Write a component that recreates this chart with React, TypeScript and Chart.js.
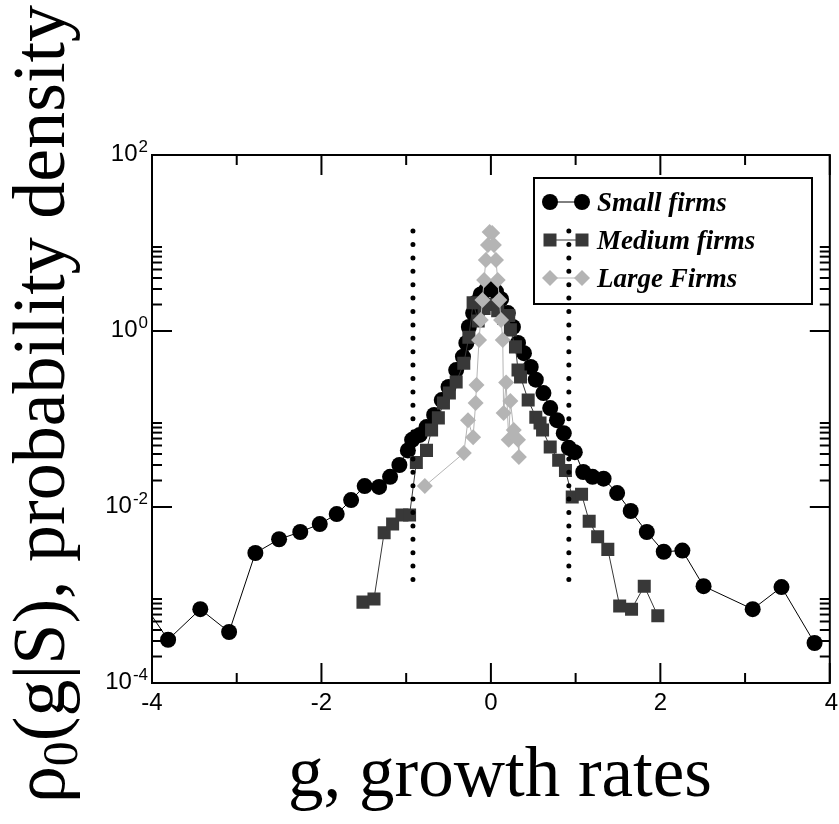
import React, { useEffect, useRef } from 'react';
import { Chart, registerables } from 'chart.js';

Chart.register(...registerables);

// ---- data ----
const smallG = [-4.25, -3.81, -3.43, -3.09, -2.78, -2.5, -2.25, -2.02, -1.82, -1.65, -1.49, -1.32, -1.19, -1.08, -0.98, -0.93, -0.84, -0.76, -0.67, -0.58, -0.5, -0.41, -0.33, -0.29, -0.26, -0.21, -0.18, -0.12, -0.06, 0.0, 0.06, 0.12, 0.2, 0.26, 0.32, 0.39, 0.47, 0.53, 0.62, 0.7, 0.78, 0.86, 0.92, 0.99, 1.09, 1.2, 1.33, 1.49, 1.65, 1.84, 2.04, 2.26, 2.51, 3.09, 3.43, 3.82];
const smallP = [1.3e-3, 3.1e-4, 6.9e-4, 3.8e-4, 3.0e-3, 4.3e-3, 5.2e-3, 6.4e-3, 8.3e-3, 1.2e-2, 1.73e-2, 1.69e-2, 2.2e-2, 3.0e-2, 4.4e-2, 5.8e-2, 6.6e-2, 8.1e-2, 0.111, 0.164, 0.231, 0.36, 0.51, 0.73, 1.11, 1.6, 2.1, 2.6, 2.9, 3.1, 2.8, 2.3, 1.6, 1.11, 0.73, 0.56, 0.39, 0.28, 0.197, 0.133, 0.097, 0.069, 0.047, 0.042, 2.5e-2, 2.2e-2, 2.1e-2, 1.44e-2, 9.0e-3, 5.2e-3, 3.1e-3, 3.2e-3, 1.26e-3, 6.9e-4, 1.23e-3, 2.85e-4];

const mediumG = [-1.51, -1.38, -1.26, -1.16, -1.05, -0.96, -0.88, -0.76, -0.7, -0.62, -0.56, -0.49, -0.41, -0.32, -0.26, -0.21, -0.15, -0.08, 0.0, 0.08, 0.15, 0.21, 0.23, 0.29, 0.32, 0.35, 0.44, 0.53, 0.58, 0.61, 0.7, 0.8, 0.88, 0.96, 1.07, 1.16, 1.26, 1.38, 1.52, 1.66, 1.81, 1.97];
const mediumP = [8.3e-4, 9.0e-4, 5.1e-3, 6.4e-3, 8.1e-3, 8.1e-3, 3.2e-2, 0.044, 0.075, 0.103, 0.152, 0.197, 0.263, 0.43, 0.85, 2.1, 1.3, 1.8, 2.0, 1.7, 1.4, 1.5, 1.03, 0.66, 0.36, 0.3, 0.164, 0.105, 0.09, 0.075, 0.048, 0.034, 0.026, 0.013, 0.014, 6.9e-3, 4.6e-3, 3.3e-3, 7.5e-4, 6.9e-4, 1.26e-3, 5.8e-4];

const largeG = [-0.78, -0.32, -0.27, -0.21, -0.18, -0.17, -0.14, -0.12, -0.1, -0.08, -0.06, -0.035, -0.015, 0.015, 0.035, 0.06, 0.08, 0.1, 0.12, 0.14, 0.15, 0.18, 0.21, 0.23, 0.27, 0.32, 0.33];
const largeP = [0.0173, 0.041, 0.097, 0.062, 0.152, 0.243, 0.79, 1.33, 2.25, 3.8, 6.4, 9.5, 13.3, 13.0, 9.5, 6.4, 3.8, 2.25, 1.33, 0.79, 0.117, 0.26, 0.058, 0.16, 0.075, 0.058, 0.037];

const cutLeftG = [-0.92, -0.92];
const cutRightG = [0.92, 0.92];
const cutP = [1.5e-3, 15];

const seriesNames = ['Small firms', 'Medium firms', 'Large Firms'];
const xMajorTicks = [-4, -2, 0, 2, 4];
const xMinorTicks = [-3, -1, 1, 3];
const yMajorTicks = [1e-4, 1e-2, 1, 100];
const yMajorExp = ['-4', '-2', '0', '2'];
const yMinorTicks = [2e-4, 3e-4, 4e-4, 5e-4, 6e-4, 7e-4, 8e-4, 9e-4, 2e-2, 3e-2, 4e-2, 5e-2, 6e-2, 7e-2, 8e-2, 9e-2, 2, 3, 4, 5, 6, 7, 8, 9];
const xTitle = 'g, growth rates';

const pts = (xs: number[], ys: number[]) => xs.map((v, i) => ({ x: v, y: ys[i] }));

const SMALL_C = '#000000';
const MED_C = '#383838';
const LARGE_C = '#b4b4b4';

const axesPlugin = {
  id: 'axesPlugin',
  afterDatasetsDraw(chart: any) {
    const { ctx, chartArea: a, scales } = chart;
    const xs = scales.x;
    const ys = scales.y;
    ctx.save();
    ctx.strokeStyle = '#000';
    ctx.lineWidth = 2;
    const seg = (x1: number, y1: number, x2: number, y2: number) => {
      ctx.beginPath();
      ctx.moveTo(x1, y1);
      ctx.lineTo(x2, y2);
      ctx.stroke();
    };
    xMajorTicks.forEach((v) => {
      const p = xs.getPixelForValue(v);
      seg(p, a.bottom, p, a.bottom - 20);
      seg(p, a.top, p, a.top + 20);
    });
    xMinorTicks.forEach((v) => {
      const p = xs.getPixelForValue(v);
      seg(p, a.bottom, p, a.bottom - 10);
      seg(p, a.top, p, a.top + 10);
    });
    yMajorTicks.forEach((v) => {
      const p = ys.getPixelForValue(v);
      seg(a.left, p, a.left + 20, p);
      seg(a.right, p, a.right - 20, p);
    });
    yMinorTicks.forEach((v) => {
      const p = ys.getPixelForValue(v);
      seg(a.left, p, a.left + 10, p);
      seg(a.right, p, a.right - 10, p);
    });
    ctx.strokeRect(a.left, a.top, a.right - a.left, a.bottom - a.top);

    // tick labels
    ctx.fillStyle = '#000';
    ctx.textBaseline = 'alphabetic';
    ctx.font = '24px "Liberation Sans", Arial, sans-serif';
    xMajorTicks.forEach((v, i) => {
      const p = xs.getPixelForValue(v);
      if (i === xMajorTicks.length - 1) {
        ctx.textAlign = 'right';
        ctx.fillText(String(v), chart.width - 1, a.bottom + 27);
      } else {
        ctx.textAlign = 'center';
        ctx.fillText(String(v), p, a.bottom + 27);
      }
    });
    yMajorTicks.forEach((v, i) => {
      const p = ys.getPixelForValue(v);
      ctx.font = '17px "Liberation Sans", Arial, sans-serif';
      const sw = ctx.measureText(yMajorExp[i]).width;
      ctx.textAlign = 'right';
      const right = a.left - 4;
      ctx.fillText(yMajorExp[i], right, p - 3);
      ctx.font = '24px "Liberation Sans", Arial, sans-serif';
      ctx.fillText('10', right - sw - 1, p + 6);
    });

    // x title
    ctx.textAlign = 'center';
    ctx.font = '71px "Liberation Serif", "Times New Roman", serif';
    ctx.fillText(xTitle, 500, 796);

    // y title (rotated) with subscript
    const big = '74px "Liberation Serif", "Times New Roman", serif';
    const sub = '50px "Liberation Serif", "Times New Roman", serif';
    const parts = [
      { t: '\u03c1', f: big, dy: 0 },
      { t: '0', f: sub, dy: 13 },
      { t: '(g|S), probability density', f: big, dy: 0 },
    ];
    let total = 0;
    parts.forEach((pp) => {
      ctx.font = pp.f;
      total += ctx.measureText(pp.t).width;
    });
    ctx.translate(64, 404);
    ctx.rotate(-Math.PI / 2);
    ctx.textAlign = 'left';
    let cx = -total / 2;
    parts.forEach((pp) => {
      ctx.font = pp.f;
      ctx.fillText(pp.t, cx, pp.dy);
      cx += ctx.measureText(pp.t).width;
    });
    ctx.restore();
  },
};

const legendPlugin = {
  id: 'legendPlugin',
  beforeDatasetsDraw(chart: any) {
    const { ctx } = chart;
    ctx.save();
    ctx.strokeStyle = '#000';
    ctx.lineWidth = 2;
    ctx.strokeRect(534, 178, 278, 126);
    const rows = [202, 240, 278];
    const colors = [SMALL_C, MED_C, LARGE_C];
    rows.forEach((ry, i) => {
      const c = colors[i];
      ctx.strokeStyle = c;
      ctx.lineWidth = 1;
      ctx.beginPath();
      ctx.moveTo(550, ry);
      ctx.lineTo(582, ry);
      ctx.stroke();
      ctx.fillStyle = c;
      [550, 582].forEach((mx) => {
        ctx.beginPath();
        if (i === 0) {
          ctx.arc(mx, ry, 8, 0, Math.PI * 2);
        } else if (i === 1) {
          ctx.rect(mx - 6.5, ry - 6.5, 13, 13);
        } else {
          ctx.moveTo(mx - 8, ry);
          ctx.lineTo(mx, ry - 8);
          ctx.lineTo(mx + 8, ry);
          ctx.lineTo(mx, ry + 8);
          ctx.closePath();
        }
        ctx.fill();
      });
      ctx.fillStyle = '#000';
      ctx.font = 'italic bold 27px "Liberation Serif", "Times New Roman", serif';
      ctx.textAlign = 'left';
      ctx.textBaseline = 'alphabetic';
      ctx.fillText(seriesNames[i], 597, ry + 9);
    });
    ctx.restore();
  },
};

const cutStyle = {
  showLine: true,
  borderColor: '#000',
  borderWidth: 5,
  borderDash: [0, 13.4],
  borderCapStyle: 'round',
  pointRadius: 0,
  order: 0,
};

export default function App() {
  const ref = useRef<HTMLCanvasElement | null>(null);
  useEffect(() => {
    if (!ref.current) return;
    const chart = new Chart(ref.current, {
      type: 'scatter',
      data: {
        datasets: [
          { label: 'cut-left', data: pts(cutLeftG, cutP), ...cutStyle } as any,
          { label: 'cut-right', data: pts(cutRightG, cutP), ...cutStyle } as any,
          {
            label: seriesNames[0],
            data: pts(smallG, smallP),
            showLine: true,
            borderColor: SMALL_C,
            borderWidth: 1,
            pointStyle: 'circle',
            pointRadius: 8,
            pointBackgroundColor: SMALL_C,
            pointBorderWidth: 0,
            order: 3,
          },
          {
            label: seriesNames[1],
            data: pts(mediumG, mediumP),
            showLine: true,
            borderColor: MED_C,
            borderWidth: 1,
            pointStyle: 'rect',
            pointRadius: 9.2,
            pointBackgroundColor: MED_C,
            pointBorderWidth: 0,
            order: 2,
          },
          {
            label: seriesNames[2],
            data: pts(largeG, largeP),
            showLine: true,
            borderColor: LARGE_C,
            borderWidth: 1,
            pointStyle: 'rectRot',
            pointRadius: 8,
            pointBackgroundColor: LARGE_C,
            pointBorderWidth: 0,
            order: 1,
          },
        ],
      },
      options: {
        responsive: false,
        animation: false,
        devicePixelRatio: 1,
        layout: { padding: { left: 152, right: 2, top: 155, bottom: 141 } },
        scales: {
          x: { type: 'linear', min: -4, max: 4, display: false },
          y: { type: 'logarithmic', min: 1e-4, max: 100, display: false },
        },
        plugins: { legend: { display: false }, tooltip: { enabled: false } },
      },
      plugins: [legendPlugin, axesPlugin],
    } as any);
    return () => chart.destroy();
  }, []);
  return (
    <div style={{ position: 'absolute', left: 0, top: 0, width: 839, height: 824, background: '#fff' }}>
      <canvas ref={ref} width={839} height={824} />
    </div>
  );
}
